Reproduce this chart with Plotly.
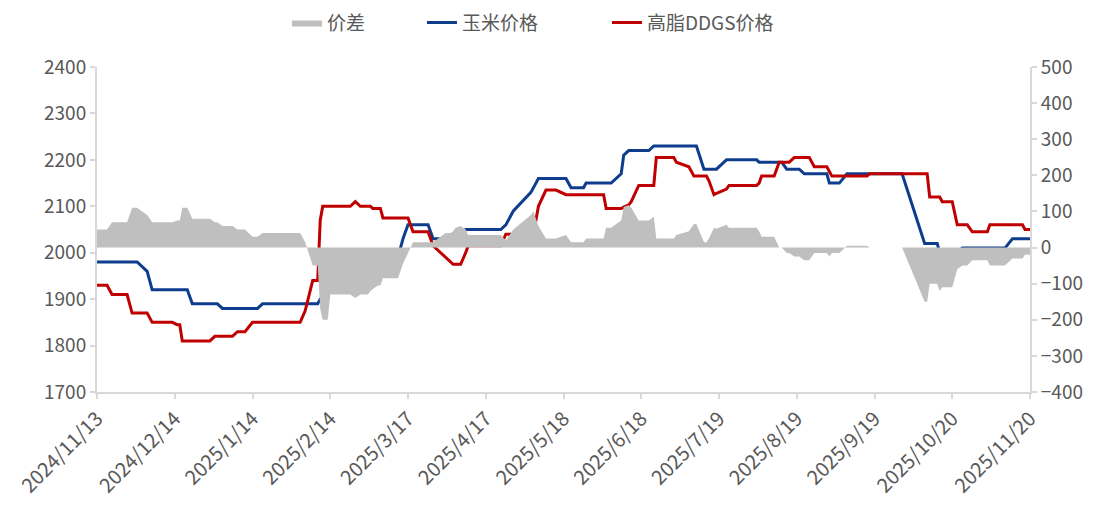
import plotly.graph_objects as go

# ---------------- data ----------------
dates = [
    "2024-11-13", "2024-11-17", "2024-11-19", "2024-11-25", "2024-11-27", "2024-11-29",
    "2024-12-01", "2024-12-03", "2024-12-05", "2024-12-13", "2024-12-15", "2024-12-16",
    "2024-12-17", "2024-12-19", "2024-12-21", "2024-12-28", "2024-12-30", "2024-12-31",
    "2025-01-02", "2025-01-06", "2025-01-08", "2025-01-11", "2025-01-14", "2025-01-16",
    "2025-01-18", "2025-02-02", "2025-02-04", "2025-02-07", "2025-02-09", "2025-02-10",
    "2025-02-11", "2025-02-13", "2025-02-14", "2025-02-22", "2025-02-24", "2025-02-26",
    "2025-03-01", "2025-03-02", "2025-03-03", "2025-03-05", "2025-03-06", "2025-03-07",
    "2025-03-13", "2025-03-15", "2025-03-17", "2025-03-19", "2025-03-24", "2025-03-25",
    "2025-03-27", "2025-03-29", "2025-04-01", "2025-04-03", "2025-04-04", "2025-04-05",
    "2025-04-07", "2025-04-09", "2025-04-10", "2025-04-23", "2025-04-25", "2025-04-26",
    "2025-04-28", "2025-05-05", "2025-05-06", "2025-05-08", "2025-05-11", "2025-05-15",
    "2025-05-17", "2025-05-19", "2025-05-21", "2025-05-26", "2025-05-27", "2025-06-03",
    "2025-06-04", "2025-06-06", "2025-06-10", "2025-06-11", "2025-06-12", "2025-06-13",
    "2025-06-14", "2025-06-17", "2025-06-21", "2025-06-23", "2025-06-24", "2025-07-01",
    "2025-07-02", "2025-07-05", "2025-07-07", "2025-07-09", "2025-07-10", "2025-07-13",
    "2025-07-14", "2025-07-15", "2025-07-17", "2025-07-18", "2025-07-21", "2025-07-22",
    "2025-07-23", "2025-08-03", "2025-08-04", "2025-08-05", "2025-08-10", "2025-08-12",
    "2025-08-13", "2025-08-15", "2025-08-16", "2025-08-18", "2025-08-20", "2025-08-22",
    "2025-08-24", "2025-08-26", "2025-08-31", "2025-09-01", "2025-09-02", "2025-09-05",
    "2025-09-08", "2025-09-16", "2025-09-17", "2025-09-30", "2025-10-09", "2025-10-10",
    "2025-10-11", "2025-10-14", "2025-10-15", "2025-10-16", "2025-10-20", "2025-10-22",
    "2025-10-24", "2025-10-26", "2025-10-28", "2025-11-03", "2025-11-04", "2025-11-10",
    "2025-11-13", "2025-11-17", "2025-11-18", "2025-11-20",
]

corn_price = [
    1980, 1980, 1980, 1980, 1980, 1980,
    1970, 1960, 1920, 1920, 1920, 1920,
    1920, 1920, 1890, 1890, 1890, 1890,
    1880, 1880, 1880, 1880, 1880, 1880,
    1890, 1890, 1890, 1890, 1890, 1900,
    1900, 1900, 1970, 1970, 1970, 1970,
    1970, 1980, 1980, 1990, 1990, 1990,
    1990, 2030, 2060, 2060, 2060, 2060,
    2030, 2030, 2030, 2020, 2020, 2030,
    2035, 2050, 2050, 2050, 2060, 2070,
    2090, 2130, 2140, 2160, 2160, 2160,
    2160, 2160, 2140, 2140, 2150, 2150,
    2150, 2150, 2170, 2210, 2215, 2220,
    2220, 2220, 2220, 2230, 2230, 2230,
    2230, 2230, 2230, 2230, 2230, 2180,
    2180, 2180, 2180, 2180, 2195, 2200,
    2200, 2200, 2195, 2195, 2195, 2195,
    2195, 2180, 2180, 2180, 2180, 2170,
    2170, 2170, 2170, 2150, 2150, 2150,
    2170, 2170, 2170, 2170, 2020, 2020,
    2020, 2020, 2000, 2000, 2000, 2000,
    2010, 2010, 2010, 2010, 2010, 2010,
    2030, 2030, 2030, 2030,
]

ddgs_price = [
    1930, 1930, 1910, 1910, 1870, 1870,
    1870, 1870, 1850, 1850, 1845, 1845,
    1810, 1810, 1810, 1810, 1820, 1820,
    1820, 1820, 1830, 1830, 1850, 1850,
    1850, 1850, 1875, 1940, 1940, 2070,
    2100, 2100, 2100, 2100, 2110, 2100,
    2100, 2100, 2095, 2095, 2095, 2075,
    2075, 2075, 2075, 2045, 2045, 2045,
    2015, 2005, 1990, 1980, 1975, 1975,
    1975, 2000, 2015, 2015, 2040, 2040,
    2040, 2040, 2040, 2100, 2135, 2135,
    2130, 2125, 2125, 2125, 2125, 2125,
    2095, 2095, 2095, 2098, 2100, 2103,
    2110, 2145, 2145, 2145, 2205, 2205,
    2195, 2190, 2185, 2165, 2165, 2165,
    2165, 2155, 2125, 2128, 2135, 2137,
    2145, 2145, 2150, 2165, 2165, 2195,
    2195, 2195, 2195, 2205, 2205, 2205,
    2205, 2185, 2185, 2175, 2165, 2165,
    2165, 2165, 2170, 2170, 2170, 2170,
    2120, 2120, 2120, 2110, 2110, 2060,
    2060, 2060, 2045, 2045, 2060, 2060,
    2060, 2060, 2050, 2050,
]

# 价差 = 玉米价格 - 高脂DDGS价格
spread = [c - d for c, d in zip(corn_price, ddgs_price)]

tick_dates = [
    "2024-11-13", "2024-12-14", "2025-01-14", "2025-02-14", "2025-03-17", "2025-04-17",
    "2025-05-18", "2025-06-18", "2025-07-19", "2025-08-19", "2025-09-19", "2025-10-20",
    "2025-11-20",
]
tick_labels = [
    "2024/11/13", "2024/12/14", "2025/1/14", "2025/2/14", "2025/3/17", "2025/4/17",
    "2025/5/18", "2025/6/18", "2025/7/19", "2025/8/19", "2025/9/19", "2025/10/20",
    "2025/11/20",
]

# ---------------- figure ----------------
FONT = "Noto Sans CJK SC"
TXT = "#595959"
AX = "#D9D9D9"

fig = go.Figure()
fig.add_trace(go.Scatter(
    x=dates, y=spread, name="价差", yaxis="y2", legend="legend",
    mode="lines", line=dict(width=0, color="#BFBFBF"),
    fill="tozeroy", fillcolor="#BFBFBF",
))
fig.add_trace(go.Scatter(
    x=dates, y=corn_price, name="玉米价格", legend="legend2",
    mode="lines", line=dict(width=3, color="#0E3D8E"),
))
fig.add_trace(go.Scatter(
    x=dates, y=ddgs_price, name="高脂DDGS价格", legend="legend3",
    mode="lines", line=dict(width=3, color="#C00000"),
))

legend_common = dict(
    orientation="h", xanchor="left", y=1.195, yanchor="top",
    font=dict(family=FONT, size=19, color=TXT),
    bgcolor="rgba(0,0,0,0)", borderwidth=0,
)

fig.update_layout(
    width=1106, height=510,
    margin=dict(l=89, r=84, t=59, b=126, autoexpand=False),
    paper_bgcolor="white", plot_bgcolor="white",
    font=dict(family=FONT, size=16, color=TXT),
    showlegend=True,
    legend=dict(x=0.2036, **legend_common),
    legend2=dict(x=0.3483, **legend_common),
    legend3=dict(x=0.5466, **legend_common),
    xaxis=dict(
        type="date", automargin=False,
        range=["2024-11-13", "2025-11-20"],
        tickmode="array", tickvals=tick_dates, ticktext=tick_labels,
        tickangle=-45, tickfont=dict(size=20, color=TXT),
        showgrid=False, zeroline=False,
        showline=True, linecolor=AX, linewidth=2,
        ticks="outside", tickcolor=AX, ticklen=5, tickwidth=2,
    ),
    yaxis=dict(
        automargin=False,
        range=[1700, 2400], tickmode="linear", tick0=1700, dtick=100,
        showgrid=False, zeroline=False,
        showline=True, linecolor=AX, linewidth=2,
        ticks="outside", tickcolor=AX, ticklen=5, tickwidth=2,
        tickfont=dict(size=19, color=TXT),
    ),
    yaxis2=dict(
        automargin=False,
        overlaying="y", side="right",
        range=[-400, 500], tickmode="linear", tick0=-400, dtick=100,
        showgrid=False, zeroline=False,
        showline=True, linecolor=AX, linewidth=2,
        ticks="outside", tickcolor=AX, ticklen=5, tickwidth=2,
        tickfont=dict(size=19, color=TXT),
    ),
)

fig.write_html("out.html")
